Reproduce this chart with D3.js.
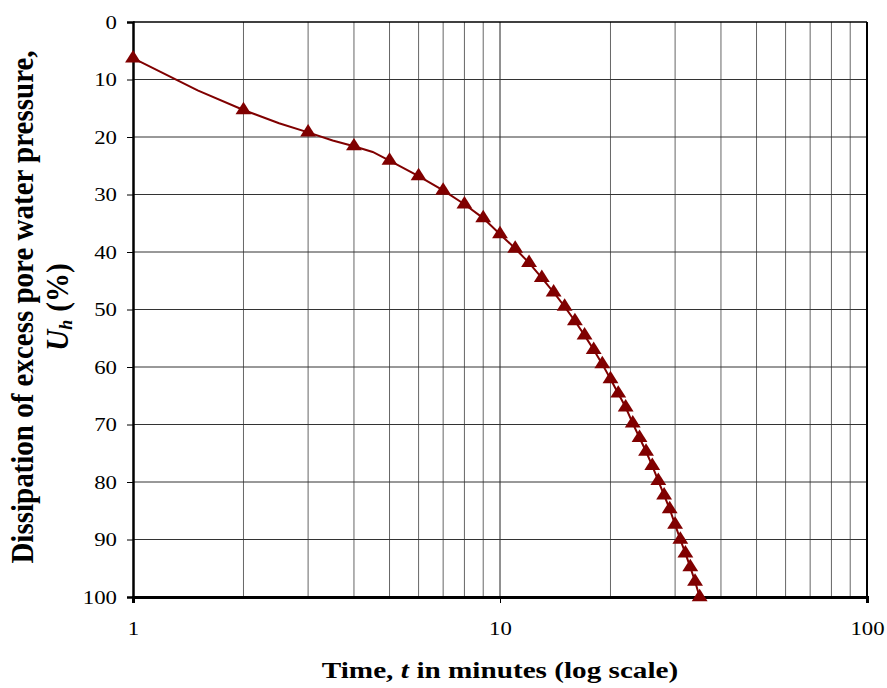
<!DOCTYPE html>
<html>
<head>
<meta charset="utf-8">
<script src="https://d3js.org/d3.v7.min.js"></script>
<style>
  body { margin:0; background:white; }
  text { font-family:"Liberation Serif","Times New Roman",serif; fill:black; }
  .tick text { font-size:19px; }
  .title { font-weight:bold; }
</style>
</head>
<body>
<script>
// marked readings: time (min) and dissipation Uh (%)
var time = [1,2,3,4,5,6,7,8,9,10,11,12,13,14,15,16,17,18,19,20,
            21,22,23,24,25,26,27,28,29,30,31,32,33,34,35];
var uh   = [6.3,15.3,19.2,21.6,24.1,26.8,29.3,31.7,34.1,36.9,39.4,41.9,44.5,47.0,49.5,52.0,54.5,57.0,59.5,62.1,
            64.6,67.0,69.8,72.3,74.7,77.2,79.8,82.3,84.7,87.4,90.0,92.4,94.8,97.3,100];
// unmarked points on the line between early readings
var bendTime = [1.5,2.5,3.5,4.5];
var bendUh   = [11.9,17.6,20.6,22.6];
var yTicks = [0,10,20,30,40,50,60,70,80,90,100];
var xTicks = [1,10,100];

var width=887,height=688;
var pl=133,pr=867,pt=22,pb=597;
var stretch=1.2;   // the glyphs in the picture are a little wide

var svg=d3.select("body").append("svg")
          .attr("width",width).attr("height",height)
          .style("background","white");

var x=d3.scaleLog().domain([1,100]).range([pl,pr]);
var y=d3.scaleLinear().domain([0,100]).range([pt,pb]);

// grid
var grid=svg.append("g");
grid.selectAll(".vg").data(x.ticks().filter(function(d){return d>1&&d<100;}))
    .enter().append("line")
    .attr("x1",function(d){return x(d);}).attr("x2",function(d){return x(d);})
    .attr("y1",pt).attr("y2",pb)
    .attr("stroke",function(d){return d==10?"#222":"#666";}).attr("stroke-width",1);
grid.selectAll(".hg").data(yTicks.filter(function(d){return d>0&&d<100;}))
    .enter().append("line")
    .attr("x1",pl).attr("x2",pr)
    .attr("y1",function(d){return y(d);}).attr("y2",function(d){return y(d);})
    .attr("stroke","#333").attr("stroke-width",1);

// frame
svg.append("line").attr("x1",pl).attr("x2",pr).attr("y1",pt).attr("y2",pt)
   .attr("stroke","black").attr("stroke-width",1.5);
svg.append("line").attr("x1",pr).attr("x2",pr).attr("y1",pt).attr("y2",pb)
   .attr("stroke","black").attr("stroke-width",2);

// axes
var yAxis=svg.append("g").attr("transform","translate("+pl+",0)")
   .call(d3.axisLeft(y).tickValues(yTicks).tickSize(6).tickFormat(d3.format("d")));
var xAxis=svg.append("g").attr("transform","translate(0,"+pb+")")
   .call(d3.axisBottom(x).tickValues(xTicks).tickSize(6).tickFormat(d3.format("d")));
yAxis.select(".domain").attr("stroke","black").attr("stroke-width",2.5);
xAxis.select(".domain").attr("stroke","black").attr("stroke-width",3);
svg.selectAll(".tick line").attr("stroke","black");
yAxis.selectAll(".tick text").attr("x",0).attr("dy","0.34em")
   .attr("transform","translate(-16,0) scale("+stretch+",1)");
xAxis.selectAll(".tick text").attr("y",0).attr("dy",0)
   .attr("transform","translate(0,38) scale("+stretch+",1)");

// line through all points
var pts=time.map(function(t,i){return [t,uh[i]];})
     .concat(bendTime.map(function(t,i){return [t,bendUh[i]];}))
     .sort(function(a,b){return a[0]-b[0];});
var line=d3.line().x(function(d){return x(d[0]);}).y(function(d){return y(d[1]);});
svg.append("path").datum(pts).attr("d",line)
   .attr("fill","none").attr("stroke","#800000").attr("stroke-width",2);

// markers
svg.selectAll(".mk").data(time).enter().append("path")
   .attr("d",d3.symbol().type(d3.symbolTriangle).size(90))
   .attr("transform",function(d,i){return "translate("+x(d)+","+y(uh[i])+") scale(1.1,1)";})
   .attr("fill","#800000");

// titles
svg.append("text").classed("title",true)
   .attr("transform","translate(500,678) scale(1.27,1)")
   .attr("text-anchor","middle").style("font-size","23px")
   .html('Time, <tspan font-style="italic">t</tspan><tspan dx="6">in minutes (log scale)</tspan>');
var yt=svg.append("g").attr("transform","translate(0,307) rotate(-90)");
yt.append("text").classed("title",true)
   .attr("transform","translate(0,33) scale(1,1.08)")
   .attr("text-anchor","middle").style("font-size","29px")
   .text("Dissipation of excess pore water pressure,");
yt.append("text").classed("title",true)
   .attr("transform","translate(0,68) scale(1,1.08)")
   .attr("text-anchor","middle").style("font-size","29px")
   .html('<tspan font-style="italic">U</tspan><tspan font-style="italic" font-size="18px" dy="4">h</tspan><tspan dy="-4" dx="8">(%)</tspan>');
</script>
</body>
</html>
